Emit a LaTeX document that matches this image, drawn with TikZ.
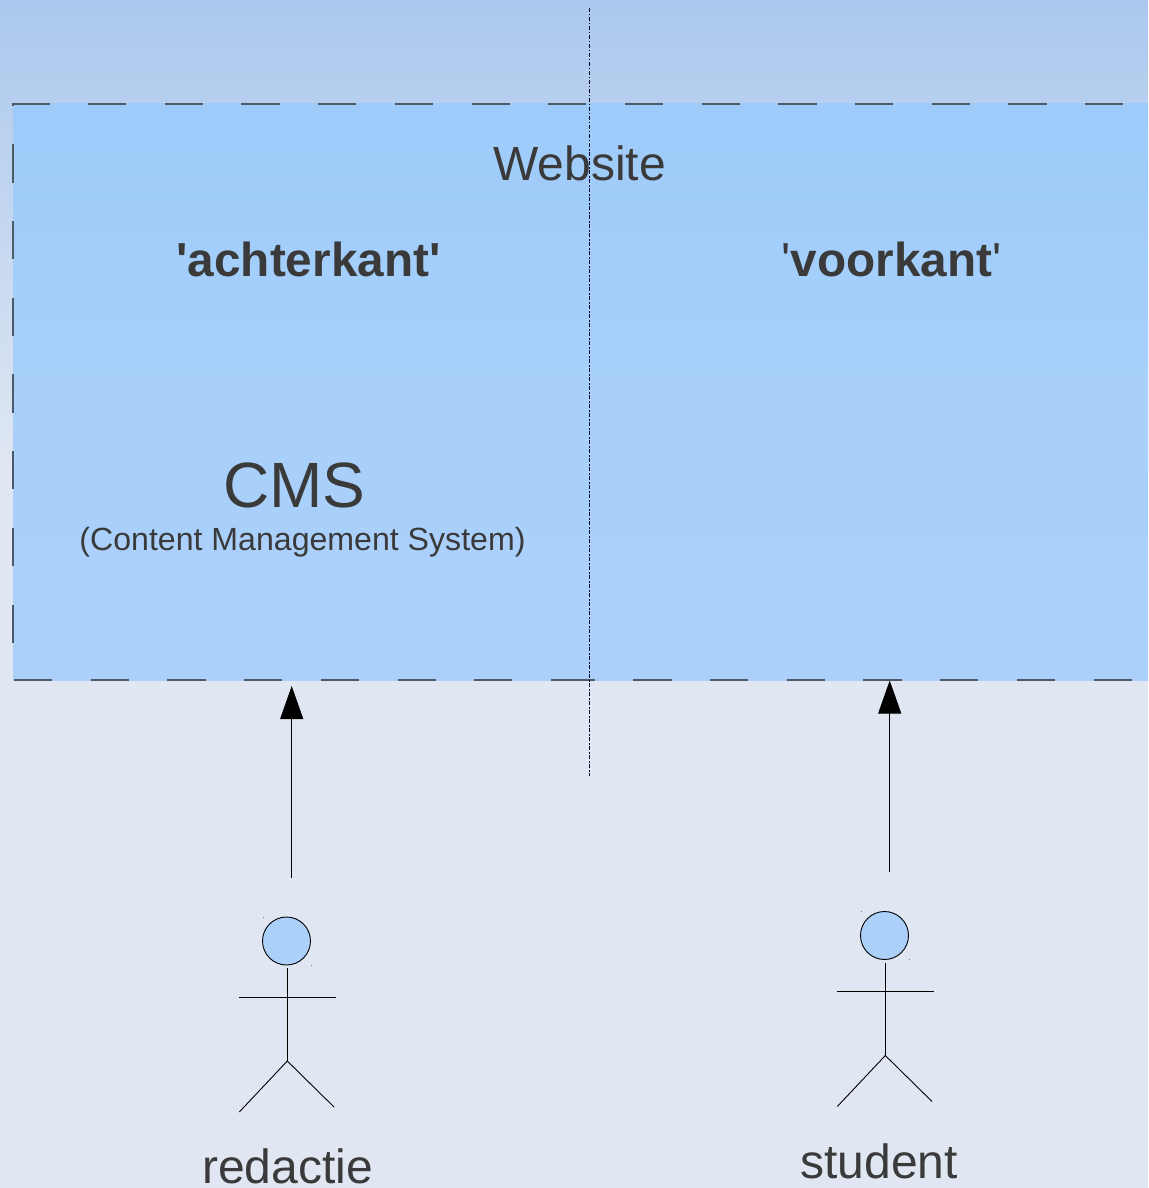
\documentclass[tikz,border=0pt]{standalone}
\usepackage{fontspec}
\newfontfamily\lib{Liberation Sans}
\usetikzlibrary{arrows.meta,calc}
\definecolor{txt}{HTML}{3A3A3A}
\definecolor{bgtop}{HTML}{ABC8EE}
\definecolor{bgbot}{HTML}{E0E7F2}
\definecolor{boxtop}{HTML}{9ECBFA}
\definecolor{boxmid}{HTML}{A8D0FB}
\definecolor{boxbot}{HTML}{ABD0FB}
\definecolor{head}{HTML}{ABD1FA}
\definecolor{dashc}{HTML}{4F5A68}
\tikzset{
  x=1pt,y=-1pt,
  label text/.style={text=txt,inner sep=0pt,anchor=base,font=\lib\fontsize{48}{50}\selectfont},
  box dash/.style={draw=dashc,line width=1.3pt,dash pattern=on 38.2pt off 38.5pt},
  mid line/.style={draw=black!85!blue,line width=0.8pt,dash pattern=on 4pt off 2pt on 1.5pt off 1.5pt},
  flow/.style={draw=black,line width=1pt,-{Triangle[length=33pt,width=23pt]}},
  stick/.style={draw=black,line width=0.9pt},
  head circle/.style={circle,draw=black,line width=0.9pt,fill=head,minimum size=48pt,inner sep=0pt},
  speck/.style={fill=gray,inner sep=0pt,minimum size=1pt,rectangle},
}
\newcommand{\actor}[3]{%
  \begin{scope}[shift={(#1,#2)}]
    \node[head circle] (#3h) at (286.5,941) {};
    \node[speck] (#3s1) at (263,917) {};
    \node[speck] (#3s2) at (311,965) {};
    \coordinate (#3top) at (287.3,968);
    \coordinate (#3hip) at (287.3,1061);
    \coordinate (#3la) at (239.3,997);
    \coordinate (#3ra) at (335.5,997);
    \coordinate (#3ll) at (239.3,1112);
    \coordinate (#3rl) at (334,1107);
    \draw[stick] (#3top) -- (#3hip);
    \draw[stick] (#3la) -- (#3ra);
    \draw[stick] (#3ll) -- (#3hip) -- (#3rl);
  \end{scope}}
\begin{document}
\begin{tikzpicture}
\useasboundingbox (0,0) rectangle (1148,1188);
\fill[bgbot] (0,0) rectangle (1148,1188);
\fill[bottom color=bgbot,top color=bgtop] (0,0) rectangle (1148,470);
\fill[top color=boxtop,bottom color=boxbot,middle color=boxmid] (13,104) rectangle (1148,680);
% dashed border
\coordinate (tl) at (13,104);
\coordinate (tr) at (1148,104);
\coordinate (bl) at (14,680);
\coordinate (bm) at (590,680);
\coordinate (bn) at (556.6,680);
\coordinate (br) at (1148,680);
\coordinate (ls) at (13,67.6);
\coordinate (le) at (13,680);
\draw[box dash,dash phase=1.7pt] (tl) -- (tr);
\draw[box dash] (bl) -- (bm);
\draw[box dash] (bn) -- (br);
\begin{scope}
\clip (0,104) rectangle (30,680);
\draw[box dash] (ls) -- (le);
\end{scope}
% centre line
\coordinate (mt) at (589,8);
\coordinate (mb) at (589,776);
\draw[mid line] (mt) -- (mb);
% texts
\node[label text] (website) at (579.5,180) {Website};
\node[label text,font=\lib\fontsize{47.7}{50}\selectfont\bfseries] (achter) at (308.5,276) {'achterkant'};
\node[label text,font=\lib\fontsize{47.7}{50}\selectfont] (voor) at (891.5,276) {'{\bfseries voorkant}'};
\node[label text,font=\lib\fontsize{64}{66}\selectfont] (cms) at (294.5,507) {CMS};
\node[label text,font=\lib\fontsize{32.1}{36}\selectfont] (cmsfull) at (302.5,550) {(Content Management System)};
\node[label text] (red) at (287.5,1183) {redactie};
\node[label text] (stu) at (879,1178) {student};
% actors
\actor{0}{0}{a}
\actor{598}{-5.5}{b}
% arrows
\coordinate (a1) at (291.7,878);
\coordinate (a2) at (291.7,686);
\coordinate (b1) at (889.7,872);
\coordinate (b2) at (889.7,680.5);
\draw[flow] (a1) -- (a2);
\draw[flow] (b1) -- (b2);
\end{tikzpicture}
\end{document}
